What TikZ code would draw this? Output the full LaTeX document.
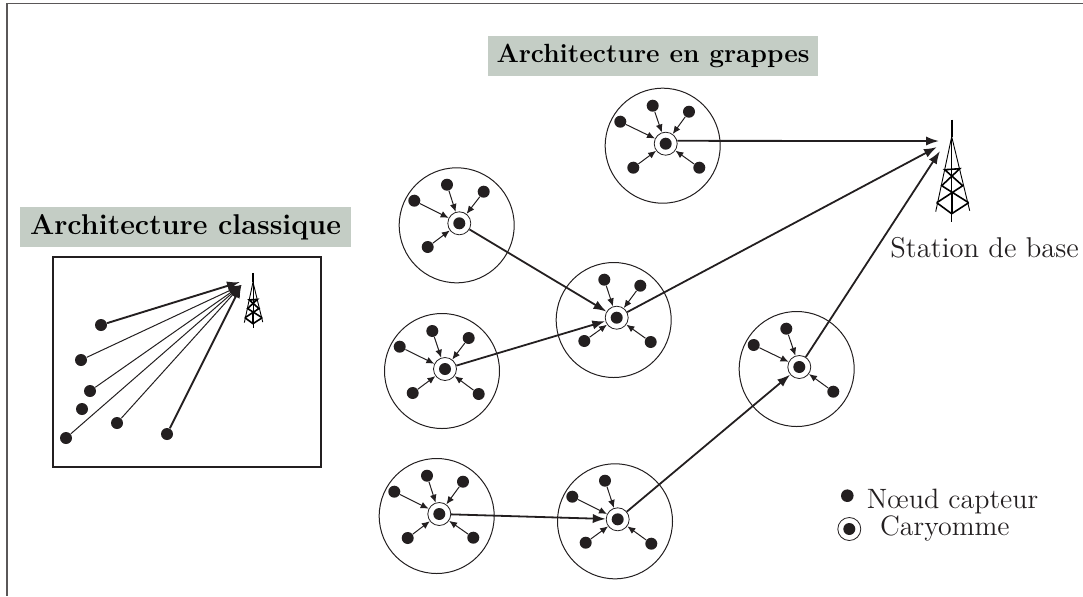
\documentclass[tikz,border=0pt]{standalone}
\usetikzlibrary{arrows.meta}
\definecolor{titlegreen}{RGB}{196,205,197}
\definecolor{inkblack}{RGB}{35,31,32}
\tikzset{
  sensor/.style={circle,fill=inkblack,inner sep=0pt,minimum size=6pt},
  hub/.style={circle,draw=inkblack,fill=white,line width=.4pt,inner sep=0pt,minimum size=11.5pt},
  grappe/.style={circle,draw=inkblack,line width=.5pt,inner sep=0pt,minimum size=57.5pt},
  titre/.style={fill=titlegreen,inner sep=0pt,minimum height=20pt},
  label/.style={inner sep=0pt,text=inkblack,font=\fontsize{14}{16}\selectfont},
  fin/.style={draw=inkblack,line width=.5pt,-{Latex[length=4pt,width=3.4pt]}},
  lien/.style={draw=inkblack,line width=.9pt,-{Latex[length=6.5pt,width=4.6pt]}},
  tower/.pic={
    \draw[line width=.8pt] (0,-102) -- (0,-85);
    \draw[line width=.45pt] (-16,-10) -- (0,-85) -- (18,-11);
    \draw[line width=.45pt] (0,-85) -- (0,0);
    \draw[line width=.8pt] (-15,-19) -- (0,-8) -- (17,-19);
    \draw[line width=.8pt] (-15,-19) -- (11,-36) -- (-7,-52) -- (8,-53) -- (-10,-36) -- (17,-19);
    \draw[line width=.8pt] (0,-8) -- (0,-30);
  }
}
\begin{document}
\begin{tikzpicture}[x=.5pt,y=-.5pt]
\useasboundingbox (0,0) rectangle (1083,596);
\draw[inkblack!75,line width=.7pt] (1083,3.5) -- (7,3.5) -- (7,596);
% titres
\node[titre,minimum width=165pt,font=\fontsize{13.15}{15}\selectfont\bfseries] (titreG) at (653,55.5) {Architecture en grappes};
\node[titre,minimum width=165.5pt,font=\fontsize{14.3}{15}\selectfont\bfseries] (titreC) at (185.5,227) {Architecture classique};
% architecture classique
\draw[inkblack,line width=.9pt] (53,257) rectangle (321,467);
\pic at (253,328) [scale=.54] {tower};
\coordinate (cibleA) at (240,282);
\coordinate (cible) at (241.5,285);
\foreach \nom/\x/\y/\ep/\arr in {a/101/325/.95pt/cibleA,b/81/360/.5pt/cible,c/90/391/.5pt/cible,e/117/423/.5pt/cible,f/66/438/.5pt/cible,g/167/434/.95pt/cible}{
  \node[sensor] (cl\nom) at (\x,\y) {};
  \draw[draw=inkblack,line width=\ep,-{Latex[length=6.5pt,width=4.6pt]}] (cl\nom) -- (\arr);
}
\node[sensor] (cld) at (82,409) {};
% grappes
\foreach \n/\cx/\cy/\hx/\hy/\capteurs in {
  A/662.7/145.7/665.7/143.7/{620.3/121.7,652.7/105.7,689/111.7,633.3/167.7,699.3/167.7},
  B/456.7/225.3/459.3/223.3/{414.3/200.7,447/184.7,483.7/191.7,427.7/247},
  C/613.7/320/616.7/317.7/{604.3/279.7,640.3/285.7,584.3/341,650.7/342},
  D/442/371/445/369/{399.7/346.7,432.3/331,468.7/338,412.7/393,478.7/394},
  E/796.7/369/799.3/367/{753.7/345,786.3/328.7,833.3/391.7},
  F/436.7/516/439.3/514/{394.3/491.7,427/475.7,463/481.7,407.7/538,473.3/537.7},
  G/615/521.3/617.7/519.3/{572.3/496.7,605/480.7,585.7/542.7,651.3/543.7}}{
  \node[grappe] (grappe\n) at (\cx,\cy) {};
  \node[hub] (hub\n) at (\hx,\hy) {};
  \node[sensor] (coeur\n) at (\hx,\hy) {};
  \foreach \sx/\sy [count=\i] in \capteurs {
    \node[sensor] (cap\n\i) at (\sx,\sy) {};
    \draw[fin] (cap\n\i) -- (hub\n);
  }
}
% station de base
\pic at (951.7,221.7) {tower};
\coordinate (arrA) at (939,141);
\coordinate (arrC) at (937,147);
\coordinate (arrE) at (940,151);
\draw[lien] (hubA.14) -- (arrA);
\draw[lien] (hubC) -- (arrC);
\draw[lien] (hubE) -- (arrE);
\draw[lien] (hubB) -- (hubC);
\draw[lien] (hubD) -- (hubC);
\draw[lien] (hubF) -- (hubG);
\draw[lien] (hubG) -- (hubE);
\node[label,anchor=base west,font=\fontsize{14.3}{16}\selectfont] (station) at (890,257.7) {Station de base};
% legende
\node[sensor,minimum size=6.3pt] (legS) at (847.3,495.7) {};
\node[hub] (legH) at (849.3,529) {};
\node[sensor] (legC) at (849.3,529) {};
\node[label,anchor=base west] (txtS) at (866.5,508.3) {Nœud capteur};
\node[label,anchor=base west] (txtC) at (879.7,535) {Caryomme};
\end{tikzpicture}
\end{document}
